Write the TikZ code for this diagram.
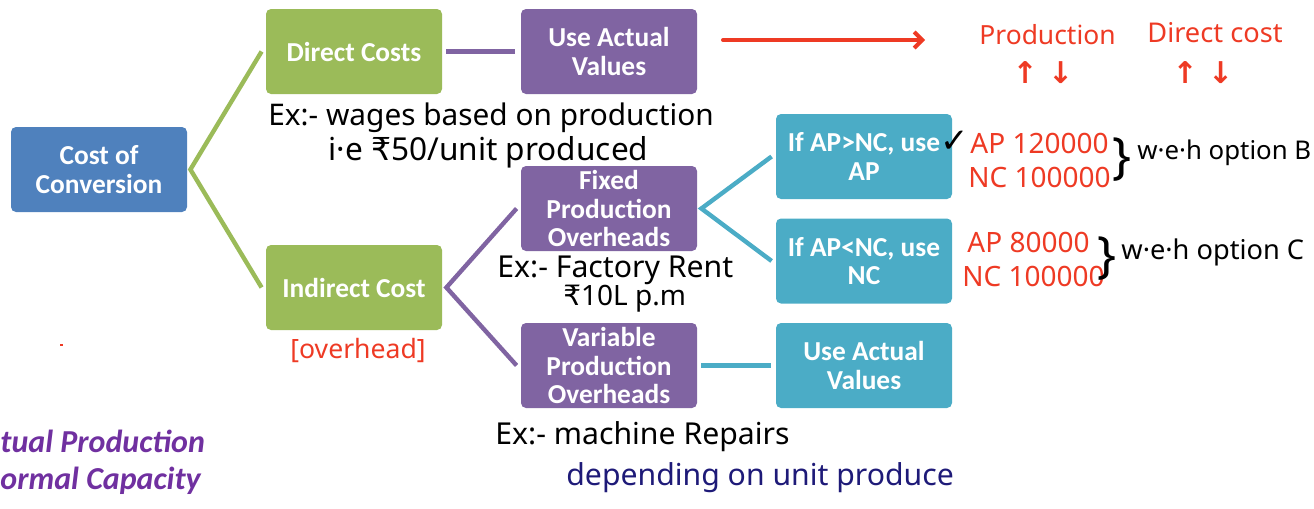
\documentclass[tikz,border=0pt]{standalone}
\usepackage{fontspec}
\setmainfont{Carlito}
\newfontfamily\hand{Noto Sans}
\newfontfamily\sym{DejaVu Sans}
\usetikzlibrary{arrows.meta}
\definecolor{cblue}{HTML}{4F81BD}
\definecolor{cgreen}{HTML}{9BBB59}
\definecolor{cpurple}{HTML}{8064A2}
\definecolor{cteal}{HTML}{4BACC6}
\definecolor{hred}{HTML}{EE3A24}
\definecolor{hnavy}{HTML}{1E1A78}
\definecolor{tpurple}{HTML}{7030A0}
\begin{document}
\begin{tikzpicture}[x=0.5pt,y=-0.5pt,
  box/.style={rounded corners=2.5pt, minimum width=88pt, minimum height=42.5pt,
    inner sep=1pt, text=white, align=center,
    font=\bfseries\fontsize{13.7}{14.25}\selectfont},
  gline/.style={draw=cgreen, line width=2.2pt},
  pline/.style={draw=cpurple, line width=2.2pt},
  tline/.style={draw=cteal, line width=2.2pt},
  hw/.style={anchor=west, inner sep=0pt, font=\hand\fontsize{15}{17}\selectfont},
  hwred/.style={hw, text=hred, font=\hand\fontsize{14}{16}\selectfont},
  brace/.style={inner sep=0pt, font=\hand\fontsize{25}{26}\selectfont},
  updown/.style={inner sep=0pt, text=hred, font=\sym\bfseries\fontsize{15}{16}\selectfont},
  note/.style={anchor=west, inner sep=0pt, text=tpurple,
    font=\bfseries\itshape\fontsize{16}{18}\selectfont}]
\useasboundingbox (0,0) rectangle (1314,509);
% boxes
\node[box, fill=cblue] (coc) at (99,169.5) {Cost of\\Conversion};
\node[box, fill=cgreen] (dc) at (354,51.5) {Direct Costs};
\node[box, fill=cgreen] (ic) at (354,287.5) {Indirect Cost};
\node[box, fill=cpurple] (uav1) at (609,51.5) {Use Actual\\Values};
\node[box, fill=cpurple] (fpo) at (609,208.5) {Fixed\\Production\\Overheads};
\node[box, fill=cpurple] (vpo) at (609,365.5) {Variable\\Production\\Overheads};
\node[box, fill=cteal] (ap1) at (864,156.5) {If AP>NC, use\\AP};
\node[box, fill=cteal] (ap2) at (864,261) {If AP<NC, use\\NC};
\node[box, fill=cteal] (uav2) at (864,365.5) {Use Actual\\Values};
% connectors
\draw[gline] ([xshift=-2pt]dc.west) -- ([xshift=1.5pt]coc.east) -- ([xshift=-2pt]ic.west);
\draw[pline] ([xshift=2pt]dc.east) -- ([xshift=-3pt]uav1.west);
\draw[pline] ([xshift=-2pt]fpo.west) -- ([xshift=2pt]ic.east) -- ([xshift=-2pt]vpo.west);
\draw[tline] ([xshift=-2pt]ap1.west) -- ([xshift=2pt]fpo.east) -- ([xshift=-2pt]ap2.west);
\draw[tline] ([xshift=2pt]vpo.east) -- ([xshift=-2.5pt]uav2.west);
% handwritten notes
\node[hw, font=\hand\fontsize{14.9}{17}\selectfont] (n1) at (268,118) {Ex:- wages based on production};
\node[hw, font=\hand\fontsize{15.8}{17}\selectfont] (n2) at (328,152) {i·e {\sym ₹}50/unit produced};
\node[hw, font=\hand\fontsize{15.1}{17}\selectfont] (n3) at (497,270) {Ex:- Factory Rent};
\node[hw, font=\hand\fontsize{14}{17}\selectfont] (n4) at (563,299) {{\sym ₹}10L p.m};
\node[hwred, font=\hand\fontsize{13.3}{16}\selectfont] (n5) at (290,350) {[overhead]};
\node[hw, font=\hand\fontsize{15.1}{17}\selectfont] (n6) at (495,437) {Ex:- machine Repairs};
\node[hw, text=hnavy, font=\hand\fontsize{15.1}{17}\selectfont] (n7) at (566,478) {depending on unit produce};
% red arrow and notes
\coordinate (ra1) at (723,40);
\coordinate (ra2) at (925,40);
\draw[draw=hred, line width=2pt, line cap=round, -{Straight Barb[length=4pt,width=8pt]}] (ra1) -- (ra2);
\node[hwred, font=\hand\fontsize{13.2}{16}\selectfont] (prod) at (979,35) {Production};
\node[hwred, font=\hand\fontsize{13.6}{16}\selectfont] (dcost) at (1147,33) {Direct cost};
\node[updown] (ud1) at (1043,73) {↑ ↓};
\node[updown] (ud2) at (1203,73) {↑ ↓};
% AP / NC
\node[inner sep=0pt, font=\sym\bfseries\fontsize{17}{18}\selectfont] (chk) at (955,142) {✓};
\node[hwred] (a1) at (970,143) {AP 120000};
\node[hwred] (b1) at (968,177) {NC 100000};
\node[brace] (br1) at (1122,160) {\}};
\node[hw, font=\hand\fontsize{12.9}{16}\selectfont] (w1) at (1137,153) {w·e·h option B};
\node[hwred] (a2) at (967,242) {AP 80000};
\node[hwred] (b2) at (962,276) {NC 100000};
\node[brace] (br2) at (1107,259) {\}};
\node[hw, font=\hand\fontsize{13.6}{16}\selectfont] (w2) at (1121,252) {w·e·h option C};
% left purple notes
\node[note] (t1) at (0,441) {tual Production};
\node[note] (t2) at (0,481) {ormal Capacity};
\draw[hred, line width=0.6pt] (60,345) -- (63,345);
\end{tikzpicture}
\end{document}
